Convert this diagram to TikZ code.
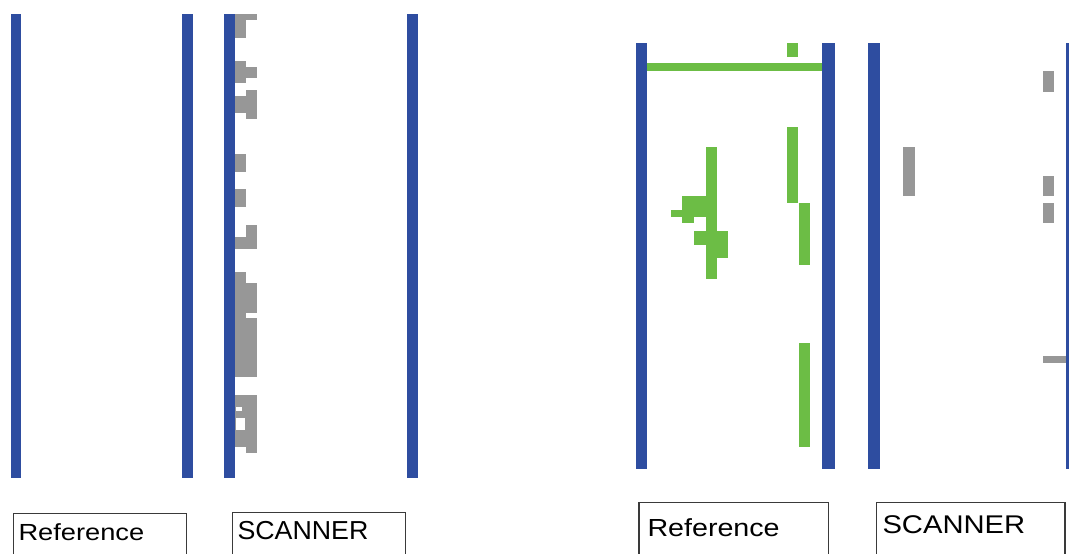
\documentclass[tikz,border=0pt]{standalone}
\usepackage{fontspec}
\setmainfont{Liberation Sans}
\definecolor{barblue}{HTML}{2E4DA0}
\definecolor{refgreen}{HTML}{6CBD45}
\definecolor{scangray}{HTML}{979797}
\definecolor{boxline}{HTML}{3A3A3A}
\begin{document}
\begin{tikzpicture}[x=1pt,y=-1pt,
  bar/.style={fill=barblue},
  gblk/.style={fill=refgreen},
  sblk/.style={fill=scangray},
  labelbox/.style={draw=boxline,line width=1.3pt},
  labeltext/.style={anchor=base west,inner sep=0pt,text=black}]
\useasboundingbox (0,0) rectangle (1069,554);
\clip (0,0) rectangle (1069,554);
\fill[white] (0,0) rectangle (1069,554);
% ---------- left pair ----------
\fill[bar] (10.7,14) rectangle (21,477.5);
\fill[bar] (181.7,14) rectangle (193.3,477.5);
\fill[bar] (224.3,14) rectangle (235,477.5);
\fill[bar] (406.5,14) rectangle (418,477.5);
% scanner gray blocks (left)
\fill[sblk] (235,14) rectangle (246,38);
\fill[sblk] (246,14) rectangle (257,20);
\fill[sblk] (235,61) rectangle (246,83);
\fill[sblk] (246,67) rectangle (257,78);
\fill[sblk] (235,96) rectangle (246,113);
\fill[sblk] (246,90) rectangle (257,119);
\fill[sblk] (235,154) rectangle (246,172);
\fill[sblk] (235,189) rectangle (246,207);
\fill[sblk] (235,237) rectangle (246,249);
\fill[sblk] (246,225) rectangle (257,249);
\fill[sblk] (235,272) rectangle (246,377);
\fill[sblk] (246,283) rectangle (257,312.7);
\fill[sblk] (246,318.3) rectangle (257,377);
\fill[sblk] (235,395) rectangle (246,447);
\fill[sblk] (246,395) rectangle (257,453);
\fill[white] (236,407) rectangle (241.7,411);
\fill[white] (236,418) rectangle (245,430);
% ---------- right pair ----------
\fill[bar] (635.7,42.7) rectangle (647.3,469.3);
\fill[bar] (821.7,42.7) rectangle (835,469.3);
\fill[bar] (868.3,42.7) rectangle (880,469.3);
\fill[bar] (1066,42.7) rectangle (1077,469.3);
% reference green blocks
\fill[gblk] (647.3,63.3) rectangle (821.7,70.7);
\fill[gblk] (786.7,42.7) rectangle (798.3,56.7);
\fill[gblk] (786.7,126.7) rectangle (798.3,202.7);
\fill[gblk] (799,202.7) rectangle (810,265);
\fill[gblk] (799,342.7) rectangle (810,446.7);
\fill[gblk] (705.7,147.3) rectangle (717.3,279.3);
\fill[gblk] (682.3,196) rectangle (706,216.7);
\fill[gblk] (670.7,210) rectangle (682.3,217.3);
\fill[gblk] (682.3,216.7) rectangle (694,223.3);
\fill[gblk] (694.3,230.7) rectangle (728.3,245);
\fill[gblk] (717.3,245) rectangle (728.3,258.3);
% scanner gray blocks (right)
\fill[sblk] (903.3,147.3) rectangle (914.7,195.7);
\fill[sblk] (1042.7,70.7) rectangle (1054,91.7);
\fill[sblk] (1042.7,175.7) rectangle (1054,195.7);
\fill[sblk] (1042.7,203.3) rectangle (1054,223.3);
\fill[sblk] (1042.7,356) rectangle (1066,362.7);
% ---------- label boxes ----------
\draw[labelbox] (13.3,560) -- (13.3,513.3) -- (186.7,513.3) -- (186.7,560);
\node[labeltext] (refL) at (18.3,540.7) {\fontsize{23.3}{28}\selectfont\scalebox{1.17}[1]{Reference}};
\draw[labelbox] (232.3,560) -- (232.3,512.3) -- (405.7,512.3) -- (405.7,560);
\node[labeltext] (scanL) at (237.3,539.3) {\fontsize{26}{30}\selectfont\scalebox{1.03}[1]{SCANNER}};
\draw[labelbox] (639,560) -- (639,502.7) -- (828.3,502.7) -- (828.3,560);
\node[labeltext] (refR) at (647.3,536) {\fontsize{24.7}{29}\selectfont\scalebox{1.16}[1]{Reference}};
\draw[labelbox] (876.7,560) -- (876.7,502.7) -- (1065,502.7) -- (1065,560);
\node[labeltext] (scanR) at (882.3,533.3) {\fontsize{25.6}{30}\selectfont\scalebox{1.14}[1]{SCANNER}};
\end{tikzpicture}
\end{document}
